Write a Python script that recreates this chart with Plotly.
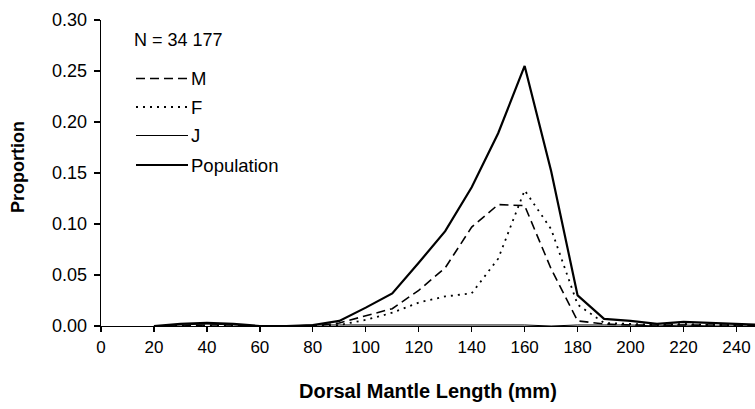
import plotly.graph_objects as go

# ---- data ----
lengths = [20, 30, 40, 50, 60, 70, 80, 90, 100, 110, 120, 130, 140, 150, 160,
           170, 180, 190, 200, 210, 220, 230, 240, 250]
male = [0.000, 0.000, 0.001, 0.001, 0.000, 0.000, 0.000, 0.003, 0.010, 0.017, 0.035, 0.057,
        0.097, 0.119, 0.118, 0.056, 0.005, 0.002, 0.001, 0.001, 0.001, 0.001, 0.001, 0.000]
female = [0.000, 0.000, 0.000, 0.000, 0.000, 0.000, 0.000, 0.001, 0.006, 0.013, 0.023, 0.029,
          0.032, 0.066, 0.133, 0.095, 0.021, 0.003, 0.002, 0.001, 0.002, 0.001, 0.001, 0.000]
juvenile = [0.000, 0.001, 0.002, 0.001, 0.000, 0.000, 0.001, 0.001, 0.001, 0.001, 0.001, 0.001,
            0.001, 0.001, 0.001, 0.000, 0.001, 0.001, 0.001, 0.000, 0.001, 0.000, 0.000, 0.000]
population = [0.000, 0.002, 0.003, 0.002, 0.000, 0.000, 0.001, 0.005, 0.018, 0.032, 0.062, 0.093,
              0.136, 0.189, 0.255, 0.152, 0.030, 0.007, 0.005, 0.002, 0.004, 0.003, 0.002, 0.001]
series_names = ["M", "F", "J", "Population"]
x_ticks = list(range(0, 241, 20))
y_ticks = [0.00, 0.05, 0.10, 0.15, 0.20, 0.25, 0.30]
sample_label = "N = 34 177"
x_title = "Dorsal Mantle Length (mm)"
y_title = "Proportion"

FONT = "Liberation Sans, Arial, sans-serif"
W, H = 755, 409
L, R, T, B = 101, 0, 20, 83
pw, ph = W - L - R, H - T - B

styles = [
    dict(color="black", width=1.6, dash="9px,5px"),
    dict(color="black", width=1.8, dash="2px,5px"),
    dict(color="black", width=1.0, dash="solid"),
    dict(color="black", width=2.2, dash="solid"),
]

fig = go.Figure()
for name, ys, st in zip(series_names, [male, female, juvenile, population], styles):
    fig.add_trace(go.Scatter(x=lengths, y=ys, mode="lines", name=name,
                             line=st, showlegend=False, cliponaxis=True))

def px2paper(x, y):
    # x, y in page pixels
    return (x - L) / pw, (H - B - y) / ph

# custom legend (line samples + labels)
leg_y = [78.5, 107, 135.5, 165]
for name, st, yy in zip(series_names, styles, leg_y):
    x0, y0 = px2paper(136, yy)
    x1, _ = px2paper(188, yy)
    fig.add_shape(type="line", xref="paper", yref="paper", x0=x0, x1=x1, y0=y0, y1=y0,
                  line=st)
    fig.add_annotation(xref="paper", yref="paper", x=x1, y=y0, text=name, showarrow=False,
                       xanchor="left", yanchor="middle", xshift=1,
                       font=dict(family=FONT, size=18.5, color="black"))

nx, ny = px2paper(132, 40)
fig.add_annotation(xref="paper", yref="paper", x=nx, y=ny, text=sample_label, showarrow=False,
                   xanchor="left", yanchor="middle",
                   font=dict(family=FONT, size=18, color="black"))

# axis titles
tx, ty = px2paper(428, 391)
fig.add_annotation(xref="paper", yref="paper", x=tx, y=ty, text=f"<b>{x_title}</b>",
                   showarrow=False, xanchor="center", yanchor="middle",
                   font=dict(family=FONT, size=20, color="black"))
yx, yy_ = px2paper(18, 167)
fig.add_annotation(xref="paper", yref="paper", x=yx, y=yy_, text=f"<b>{y_title}</b>",
                   showarrow=False, xanchor="center", yanchor="middle", textangle=-90,
                   font=dict(family=FONT, size=18, color="black"))

fig.update_layout(
    width=W, height=H,
    margin=dict(l=L, r=R, t=T, b=B, pad=0),
    paper_bgcolor="white", plot_bgcolor="white",
    font=dict(family=FONT, size=17, color="black"),
    showlegend=False,
)
fig.update_xaxes(range=[0, 247], tickvals=x_ticks, ticktext=[str(v) for v in x_ticks],
                 showgrid=False, zeroline=False, showline=True, linecolor="black", linewidth=1.3,
                 ticks="outside", ticklen=5, tickcolor="black", tickwidth=1.3,
                 tickfont=dict(family=FONT, size=17, color="black"))
fig.update_yaxes(range=[0, 0.30], tickvals=y_ticks, ticktext=[f"{v:.2f}" for v in y_ticks],
                 showgrid=False, zeroline=False, showline=True, linecolor="black", linewidth=1.3,
                 ticks="outside", ticklen=6, tickcolor="black", tickwidth=1.3,
                 ticklabelstandoff=3,
                 tickfont=dict(family=FONT, size=18, color="black"))

fig.write_html("out.html",
               config={"displayModeBar": False, "staticPlot": True},
               post_script="document.body.style.margin='0';document.body.style.overflow='hidden';")
